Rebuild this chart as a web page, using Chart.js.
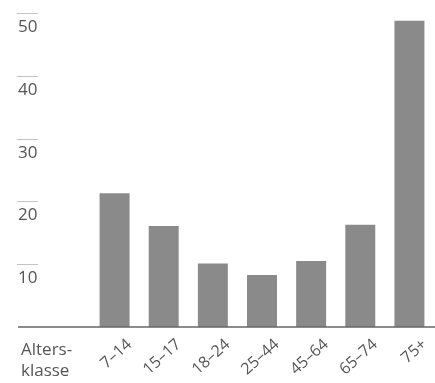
<!DOCTYPE html>
<html>
<head>
<meta charset="utf-8">
<script src="https://cdn.jsdelivr.net/npm/chart.js@4/dist/chart.umd.min.js"></script>
<style>
  html, body { margin: 0; padding: 0; background: #fff; }
  #wrap { width: 435px; height: 383px; }
</style>
</head>
<body>
<div id="wrap"><canvas id="age-chart" width="435" height="383"></canvas></div>
<script>
/** AGE CLASS BAR CHART **/

var ageClasses = ["7–14", "15–17", "18–24", "25–44", "45–64", "65–74", "75+"];
var values = [21.3, 16.1, 10.1, 8.3, 10.5, 16.3, 48.8];
var yTicks = [10, 20, 30, 40, 50];
var axisTitle = ["Alters-", "klasse"];

var textColor = '#555';
var fontFamily = '"Open Sans", "Noto Sans", sans-serif';

// short lines above the y labels, baseline, and the axis caption
var extras = {
    id: 'extras',
    afterDraw: function (chart) {
        var ctx = chart.ctx;
        var y = chart.scales.y;
        ctx.save();
        ctx.strokeStyle = '#c4c4c4';
        ctx.lineWidth = 1;
        yTicks.forEach(function (v) {
            var py = Math.round(y.getPixelForValue(v)) + 0.5;
            ctx.beginPath();
            ctx.moveTo(17, py);
            ctx.lineTo(38, py);
            ctx.stroke();
        });
        var base = y.getPixelForValue(0);
        ctx.strokeStyle = '#666';
        ctx.lineWidth = 1.5;
        ctx.beginPath();
        ctx.moveTo(18, base);
        ctx.lineTo(435, base);
        ctx.stroke();

        ctx.fillStyle = textColor;
        ctx.font = '17px ' + fontFamily;
        ctx.textBaseline = 'middle';
        ctx.fillText(axisTitle[0], 21, 350);
        ctx.fillText(axisTitle[1], 21, 371);
        ctx.restore();
    }
};

var ageChart = new Chart(document.getElementById("age-chart"), {
    type: 'bar',
    data: {
        labels: ageClasses,
        datasets: [{
            label: '',
            data: values,
            backgroundColor: '#8a8a8a',
            barPercentage: 0.61,
            categoryPercentage: 1
        }]
    },
    options: {
        responsive: false,
        animation: false,
        layout: { padding: { left: 18, right: 1, top: 9, bottom: 0 } },
        plugins: {
            legend: { display: false },
            tooltip: { enabled: false }
        },
        scales: {
            x: {
                border: { display: false },
                grid: { display: false },
                ticks: {
                    color: textColor,
                    font: { family: fontFamily, size: 16 },
                    minRotation: 42,
                    maxRotation: 42,
                    labelOffset: 15,
                    padding: 0
                },
                afterFit: function (scale) { scale.height = 56; }
            },
            y: {
                min: 0,
                max: 50,
                border: { display: false },
                grid: { display: false },
                ticks: {
                    stepSize: 10,
                    color: textColor,
                    crossAlign: 'far',
                    labelOffset: 14,
                    font: { family: fontFamily, size: 17 },
                    callback: function (v) { return v === 0 ? '' : v; }
                },
                afterFit: function (scale) { scale.width = 72; }
            }
        }
    },
    plugins: [extras]
});
</script>
</body>
</html>
